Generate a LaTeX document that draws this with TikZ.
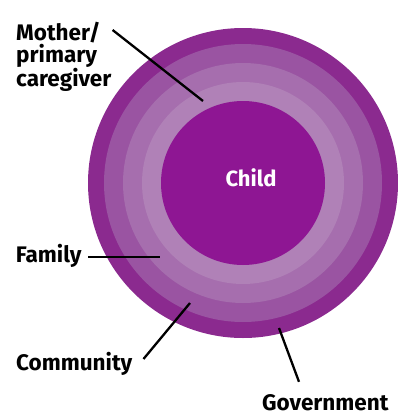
\documentclass[tikz,border=0pt]{standalone}
\usepackage{fontspec}
\setmainfont{Fira Sans}
\definecolor{ringgov}{HTML}{8B2A8F}
\definecolor{ringcom}{HTML}{9A54A2}
\definecolor{ringfam}{HTML}{A66EAE}
\definecolor{ringmum}{HTML}{B081B7}
\definecolor{childfill}{HTML}{8E1693}
\begin{document}
\begin{tikzpicture}[x=1pt, y=-1pt,
  lbl/.style={font=\fontsize{22.5}{22}\selectfont\bfseries, inner sep=0pt, align=left},
  leader/.style={line width=2.3pt, black}]
\useasboundingbox (0,0) rectangle (398,415);

\foreach \r/\c in {155/ringgov, 139/ringcom, 120/ringfam, 101/ringmum, 82/childfill}
  \fill[\c] (243,183) circle[radius=\r pt];

\path (251,178) node[text=white, font=\fontsize{22}{24}\selectfont\bfseries] (child) {Child}
      (16,22) node[lbl, anchor=north west] (mum) {Mother/\\primary\\caregiver}
      (9,262) node[lbl, anchor=base west, outer xsep=7pt] (fam) {Family}
      (16,370) node[lbl, anchor=base west] (com) {Community}
      (262,410) node[lbl, anchor=base west] (gov) {Government};

\coordinate (mumend) at (203,101);
\coordinate (famend) at (160,257);
\coordinate (comend) at (190,303);
\coordinate (govend) at (279,328);

\draw[leader] ([xshift=1pt,yshift=-8pt]mum.north east) -- (mumend);
\draw[leader] (fam.east |- famend) -- (famend);
\draw[leader] ([xshift=11pt,yshift=11pt]com.base east) -- (comend);
\draw[leader] ([xshift=37pt,yshift=12pt]gov.north west) -- (govend);
\end{tikzpicture}
\end{document}
